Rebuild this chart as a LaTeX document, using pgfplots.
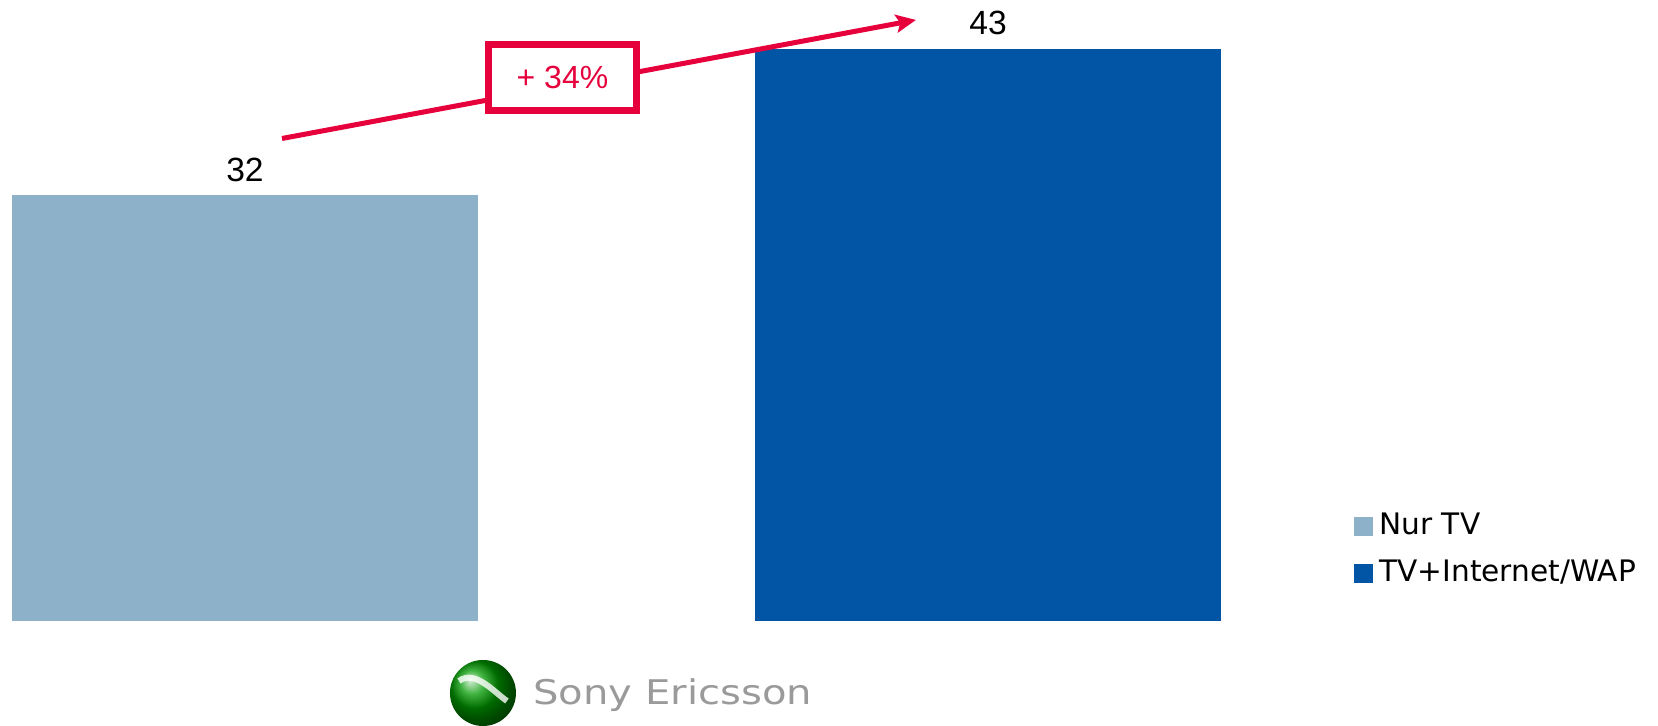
\documentclass[border=0pt]{standalone}
\usepackage{pgfplots}
\pgfplotsset{compat=1.18}
\usepackage{fontspec}
\setmainfont{DejaVu Sans}
\newfontfamily\lib{Liberation Sans}
\usetikzlibrary{arrows.meta}
\definecolor{lightbar}{HTML}{8DB1C9}
\definecolor{darkbar}{HTML}{0254A5}
\definecolor{accent}{HTML}{E6003C}
\definecolor{logogray}{HTML}{9A9A9A}
\begin{document}
\begin{tikzpicture}
\useasboundingbox (0,0) rectangle (829pt,362.5pt);
\begin{axis}[
  at={(0,0)}, anchor=south west,
  scale only axis, width=829pt, height=362.5pt,
  hide axis, clip=false,
  xmin=-0.3297, xmax=1.9017, ymin=-7.85, ymax=46.70,
  ybar, bar width=233pt, bar shift=0pt,
  nodes near coords,
  /pgf/number format/assume math mode=true,
  every node near coord/.append style={font=\lib\fontsize{16.8}{19}\selectfont, color=black, anchor=south, inner sep=0pt, yshift=6.8pt},
  legend style={at={(rel axis cs:0.8161,0.2924)}, anchor=north west, draw=none, fill=none,
    inner sep=0pt, row sep=10pt, font=\fontsize{14.8}{17}\selectfont,
    nodes={inner sep=0pt, text height=10.5pt, text depth=3pt},
    cells={anchor=west}},
  legend image code/.code={\fill[#1,draw=none] (0pt,-4.75pt) rectangle (9.5pt,4.75pt);},
]
\addplot[fill=lightbar, draw=none] coordinates {(0,32)};
\addlegendentry{\hspace{3.5pt}Nur TV}
\addplot[fill=darkbar, draw=none] coordinates {(1,43)};
\addlegendentry{\hspace{3.5pt}TV+Internet/WAP}

\draw[accent, line width=2.5pt, -{Stealth[length=10pt,width=9pt,inset=2pt]}] (axis cs:0.0498,36.28) -- (axis cs:0.903,45.2);
\node[draw=accent, line width=3.5pt, fill=white, minimum width=74pt, minimum height=33pt, inner sep=0pt]
  at (axis cs:0.4273,40.87) {\lib\fontsize{16}{18}\selectfont\color{accent}+ 34\%};

\shade[ball color=green!60!black] (axis cs:0.3203,-5.44) circle (16.5pt);
\draw[white, line width=3pt, opacity=0.8] ([xshift=-12pt,yshift=6pt]axis cs:0.3203,-5.44) .. controls +(8pt,6pt) and +(-6pt,4pt) .. ([xshift=12pt,yshift=-4pt]axis cs:0.3203,-5.44);
\node[anchor=base west, inner sep=0pt, text=logogray] at (axis cs:0.3876,-6.34)
  {\scalebox{1.18}[1]{\fontsize{17}{20}\selectfont Sony Ericsson}};
\end{axis}
\end{tikzpicture}
\end{document}
